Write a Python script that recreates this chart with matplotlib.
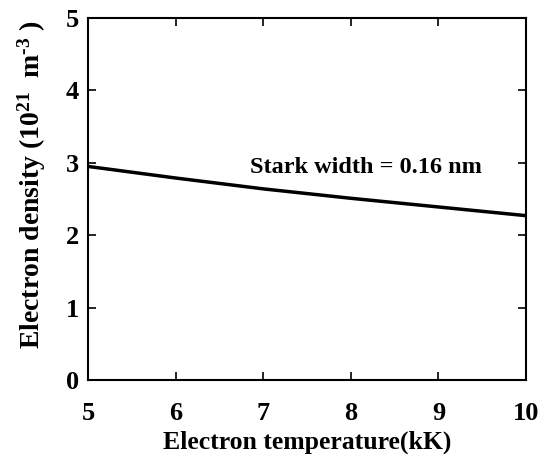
import numpy as np
import matplotlib
matplotlib.use("Agg")
import matplotlib.pyplot as plt

# values
temperature = [5, 6, 7, 8, 9, 10]            # kK
density = [2.95, 2.79, 2.64, 2.51, 2.39, 2.27]  # 10^21 m^-3

plt.rcParams['font.family'] = ['Liberation Serif', 'DejaVu Serif']
plt.rcParams['font.weight'] = 'bold'
plt.rcParams['mathtext.fontset'] = 'custom'
plt.rcParams['mathtext.rm'] = 'Liberation Serif:bold'
plt.rcParams['mathtext.bf'] = 'Liberation Serif:bold'
plt.rcParams['mathtext.default'] = 'rm'

fig = plt.figure(figsize=(5.38, 4.59), dpi=100)
ax = fig.add_axes([88/538, 1 - 380/459, 438/538, 362/459])

ax.plot(temperature, density, color='black', linewidth=2.5)
ax.text(6.85, 2.93, "Stark width = 0.16 nm", fontsize=17.5, fontweight='bold', va='center')

ax.set_xlim(5, 10)
ax.set_ylim(0, 5)
ax.set_xticks([5, 6, 7, 8, 9, 10])
ax.set_yticks([0, 1, 2, 3, 4, 5])
ax.tick_params(direction='in', top=True, right=True, length=6, width=1.2, labelsize=19)
ax.tick_params(axis='x', pad=16)
ax.tick_params(axis='y', pad=6.5)
for s in ax.spines.values():
    s.set_linewidth(1.5)

ax.set_xlabel("Electron temperature(kK)", fontsize=18.5, fontweight='bold', labelpad=4)
ax.set_ylabel("Electron density (10$^{21\\ \\ }$m$^{\\text{-}3\\ }$)", fontsize=20,
              fontweight='bold', labelpad=6)
ax.yaxis.set_label_coords(-0.092, 0.54)

fig.savefig("out.png", dpi=100)
